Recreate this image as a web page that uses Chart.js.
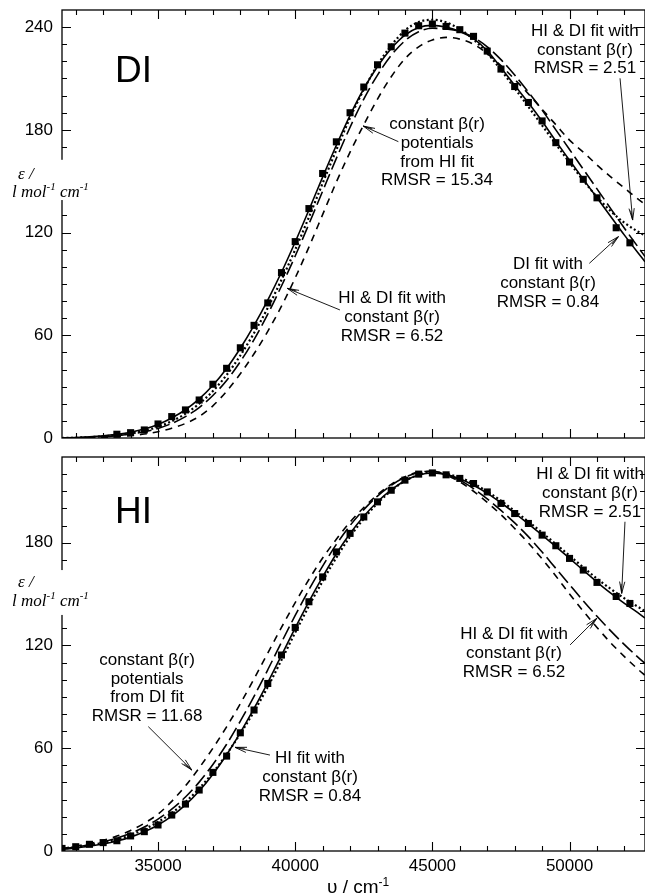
<!DOCTYPE html>
<html>
<head>
<meta charset="utf-8">
<script src="https://cdn.jsdelivr.net/npm/chart.js@4.4.1/dist/chart.umd.min.js"></script>
<style>
  html, body { margin: 0; padding: 0; background: #fff; }
  #wrap { position: relative; width: 645px; height: 896px; }
  canvas { position: absolute; left: 0; }
</style>
</head>
<body>
<div id="wrap">
  <canvas id="diChart" width="645" height="448" style="top:0"></canvas>
  <canvas id="hiChart" width="645" height="448" style="top:448px"></canvas>
</div>
<script>
// Axis ticks (cm^-1) and the labelled ones
const xTickValues = [32000, 33000, 34000, 35000, 36000, 37000, 38000, 39000, 40000, 41000,
  42000, 43000, 44000, 45000, 46000, 47000, 48000, 49000, 50000, 51000, 52000];
const xLabelValues = [35000, 40000, 45000, 50000];

// Wavenumber grid (cm^-1) on which the fitted curves are read
const curveX = [31500, 32000, 32500, 33000, 33500, 34000, 34500, 35000, 35500, 36000,
  36500, 37000, 37500, 38000, 38500, 39000, 39500, 40000, 40500, 41000,
  41500, 42000, 42500, 43000, 43500, 44000, 44500, 45000, 45500, 46000,
  46500, 47000, 47500, 48000, 48500, 49000, 49500, 50000, 50500, 51000,
  51500, 52000, 52500, 52750];

// DI panel
const diExpX = [33500, 34000, 34500, 35000, 35500, 36000, 36500, 37000, 37500, 38000,
  38500, 39000, 39500, 40000, 40500, 41000, 41500, 42000, 42500, 43000,
  43500, 44000, 44500, 45000, 45500, 46000, 46500, 47000, 47500, 48000,
  48500, 49000, 49500, 50000, 50500, 51000, 51700, 52200];
const diExpY = [2.2, 3.1, 4.7, 8.2, 12.5, 16.4, 22.2, 31.4, 40.7, 52.7,
  65.8, 78.9, 96.6, 114.7, 134, 154.5, 173, 190, 205, 218,
  228.5, 236.5, 240.8, 241.8, 240.4, 238.5, 234.6, 226, 215.5, 205.3,
  196, 185.2, 172.5, 161.2, 151.1, 140.3, 122.8, 114];
const diFit = [0, 0.3, 0.7, 1.3, 2.2, 3.4, 5.2, 7.9, 11.7, 16.5,
  22.8, 30.8, 40.6, 52.4, 65.8, 80.6, 96.8, 114.5, 133.2, 152.4,
  171, 188.5, 204, 217, 227.5, 235.3, 239.8, 241, 240, 237.5,
  233.3, 226.2, 216.3, 206, 195.8, 185, 173.4, 162.2, 151.2, 140.3,
  129.4, 118.5, 108, 103];
const diJoint251 = [0, 0.2, 0.5, 1.0, 1.7, 2.7, 4.2, 6.5, 9.8, 14.2,
  20, 27.4, 36.8, 48.2, 61.3, 76, 92.4, 110, 129, 148.8,
  168.3, 187, 203.5, 217.8, 229.3, 238, 243, 244.3, 242.8, 238.8,
  232.8, 224.8, 215, 204.3, 193.5, 182.6, 171.7, 160.9, 150.5, 140.8,
  132.5, 125.7, 120.5, 118.3];
const diJoint652 = [0, 0.15, 0.4, 0.8, 1.4, 2.3, 3.6, 5.6, 8.5, 12.5,
  17.8, 24.8, 33.6, 44.6, 57.5, 72.3, 88.8, 106.3, 125, 144.2,
  163.3, 181.5, 198, 212, 223.5, 232, 237.3, 239.3, 239, 237.5,
  234, 228.5, 221, 212, 202, 191.5, 180, 168.5, 157, 145.5,
  134, 122.5, 111.5, 106];
const diFromHI = [0, 0.1, 0.2, 0.4, 0.8, 1.4, 2.3, 3.7, 5.7, 8.5,
  12.6, 18.8, 27.3, 37.5, 49.2, 62.3, 77, 93.5, 111.5, 130.5,
  149.5, 167, 183, 198, 211, 221.5, 228.5, 232.5, 234, 233,
  230, 224.5, 217.5, 209.5, 201, 192, 183, 174, 167, 159.5,
  152.5, 146, 139.5, 136.5];

// HI panel
const hiExpX = [31500, 32000, 32500, 33000, 33500, 34000, 34500, 35000, 35500, 36000,
  36500, 37000, 37500, 38000, 38500, 39000, 39500, 40000, 40500, 41000,
  41500, 42000, 42500, 43000, 43500, 44000, 44500, 45000, 45500, 46000,
  46500, 47000, 47500, 48000, 48500, 49000, 49500, 50000, 50500, 51000,
  51700, 52200];
const hiExpY = [1.5, 2.5, 3.9, 4.9, 6.0, 8.8, 11.3, 15.2, 21, 27.4,
  35.6, 45.9, 55.4, 69, 82.3, 97.8, 114.4, 130.5, 145.5, 160,
  174.6, 185.4, 195, 203.8, 210.6, 216.5, 220, 220.7, 219.6, 217.5,
  214.5, 209.6, 202.9, 197, 191.2, 184.4, 178.2, 170.8, 164, 156.8,
  148.6, 144.5];
const hiFit = [1, 1.8, 2.8, 4.1, 5.8, 8.1, 11.2, 15.2, 20.4, 26.9,
  35, 44.8, 56.2, 69.1, 83.2, 98.3, 114.2, 130.2, 145.6, 160,
  173.5, 185.3, 195.4, 203.9, 210.8, 216.1, 219.5, 220.7, 219.8, 217.3,
  213.5, 208.8, 203.3, 197.3, 191, 184.4, 177.7, 170.8, 163.9, 157,
  150.5, 144.5, 139, 136];
const hiJoint251 = [1.3, 2.2, 3.3, 4.8, 6.7, 9.3, 12.7, 16.9, 22.2, 28.6,
  36.5, 45.8, 56.5, 68.5, 81.5, 95.8, 111.5, 127.5, 143, 157.5,
  171.3, 183.5, 194, 203, 210.3, 216, 219.6, 221, 220.2, 218,
  214.5, 209.8, 204.5, 198.5, 192.3, 185.8, 179.2, 172.4, 165.6, 159,
  153, 147.5, 142.5, 140];
const hiJoint652 = [1.3, 2.3, 3.6, 5.3, 7.5, 10.3, 14, 18.6, 24.4, 31.5,
  40.2, 50.5, 62.3, 75.8, 90.3, 105.8, 121.8, 137.5, 152.5, 166.3,
  179, 190, 199.3, 207.2, 213.5, 218.2, 221, 221.6, 220, 216.5,
  211.5, 205.5, 198.8, 191.5, 183.5, 174.5, 165, 155.5, 146, 137,
  128.5, 120.5, 113, 109.5];
const hiFromDI = [1.5, 2.8, 4.3, 6.2, 8.7, 12, 16.2, 21.5, 29, 38,
  48.5, 60, 72.5, 86, 100.5, 115.5, 130.5, 145, 158.5, 171,
  182, 192, 200.5, 208, 214, 218.5, 221.2, 221.6, 219.5, 215.5,
  210, 203.5, 196.3, 188.3, 179.8, 170.5, 160.5, 150, 140, 130.5,
  121.5, 113.5, 106, 102.5];

const SANS = '"Liberation Sans", Arial, Helvetica, sans-serif';
const SERIF = '"Liberation Serif", "Times New Roman", serif';

function pairs(xs, ys) {
  return xs.map((x, i) => ({ x: x, y: ys[i] }));
}

function curve(ys, dash, width) {
  return {
    data: pairs(curveX, ys),
    showLine: true,
    borderColor: "#000",
    borderWidth: width,
    borderDash: dash,
    pointRadius: 0,
    cubicInterpolationMode: "monotone",
    fill: false,
  };
}

function squares(xs, ys) {
  return {
    data: pairs(xs, ys),
    showLine: false,
    pointStyle: "rect",
    pointRadius: 5,
    backgroundColor: "#000",
    borderColor: "#000",
    borderWidth: 0,
  };
}

// draw text made of normal and superscript pieces
function drawParts(ctx, parts, x, y, font, supFont) {
  ctx.textAlign = "left";
  ctx.textBaseline = "alphabetic";
  parts.forEach((p) => {
    ctx.font = p.sup ? supFont : font;
    ctx.fillText(p.t, x, p.sup ? y - 7 : y);
    x += ctx.measureText(p.t).width;
  });
}

function arrow(ctx, x0, y0, x1, y1) {
  const a = Math.atan2(y1 - y0, x1 - x0);
  const len = 12, spread = 0.22;
  ctx.beginPath();
  ctx.moveTo(x0, y0);
  ctx.lineTo(x1, y1);
  ctx.moveTo(x1 - len * Math.cos(a - spread), y1 - len * Math.sin(a - spread));
  ctx.lineTo(x1, y1);
  ctx.lineTo(x1 - len * Math.cos(a + spread), y1 - len * Math.sin(a + spread));
  ctx.moveTo(x1 - len * 0.8 * Math.cos(a - spread * 0.5), y1 - len * 0.8 * Math.sin(a - spread * 0.5));
  ctx.lineTo(x1, y1);
  ctx.stroke();
}

// frame, inward ticks, axis labels and annotations
const panelDecor = {
  id: "panelDecor",
  afterDraw(chart, args, opts) {
    const ctx = chart.ctx;
    const area = chart.chartArea;
    const xs = chart.scales.x;
    const ys = chart.scales.y;
    ctx.save();
    ctx.strokeStyle = "#000";
    ctx.fillStyle = "#000";

    // frame
    ctx.lineWidth = 1.3;
    ctx.strokeRect(area.left, area.top, area.right - area.left, area.bottom - area.top);

    // ticks pointing inwards on all sides
    ctx.lineWidth = 1.1;
    ctx.beginPath();
    xs.ticks.forEach((t) => {
      if (t.value <= xs.min || t.value >= xs.max) return;
      const px = Math.round(xs.getPixelForValue(t.value)) + 0.5;
      const len = xLabelValues.includes(t.value) ? 9 : 5;
      ctx.moveTo(px, area.bottom);
      ctx.lineTo(px, area.bottom - len);
      ctx.moveTo(px, area.top);
      ctx.lineTo(px, area.top + len);
    });
    ys.ticks.forEach((t) => {
      if (t.value <= ys.min || t.value >= ys.max) return;
      const py = Math.round(ys.getPixelForValue(t.value)) + 0.5;
      const len = t.value % 60 === 0 ? 9 : 5;
      ctx.moveTo(area.left, py);
      ctx.lineTo(area.left + len, py);
      ctx.moveTo(area.right, py);
      ctx.lineTo(area.right - len, py);
    });
    ctx.stroke();

    // y axis label on a white patch that breaks the axis line
    const yl = opts.yLabel;
    const b0 = ys.getPixelForValue(yl.boxTop);
    const b1 = ys.getPixelForValue(yl.boxBottom);
    ctx.fillStyle = "#fff";
    ctx.fillRect(0, b0, 100, b1 - b0);
    ctx.fillStyle = "#000";
    const base1 = ys.getPixelForValue(yl.line1);
    const font = "italic 17px " + SERIF;
    const supFont = "italic 11px " + SERIF;
    drawParts(ctx, [{ t: "\u03b5 /" }], 18, base1, font, supFont);
    drawParts(ctx, [{ t: "l mol" }, { t: "-1", sup: true }, { t: " cm" }, { t: "-1", sup: true }],
      12, base1 + 18.5, font, supFont);

    // panel name
    ctx.font = "37px " + SANS;
    ctx.textAlign = "left";
    ctx.textBaseline = "alphabetic";
    ctx.fillText(opts.name, xs.getPixelForValue(opts.nameX), ys.getPixelForValue(opts.nameY));

    // annotations with arrows
    ctx.lineWidth = 0.9;
    opts.notes.forEach((n) => {
      ctx.font = "17px " + SANS;
      ctx.textAlign = "center";
      ctx.textBaseline = "alphabetic";
      const px = xs.getPixelForValue(n.x);
      const py = ys.getPixelForValue(n.y);
      n.lines.forEach((line, i) => ctx.fillText(line, px, py + i * 18.7));
      arrow(ctx,
        xs.getPixelForValue(n.from[0]), ys.getPixelForValue(n.from[1]),
        xs.getPixelForValue(n.to[0]), ys.getPixelForValue(n.to[1]));
    });

    // x axis title
    if (opts.xTitle) {
      drawParts(ctx, [{ t: "\u03c5 / cm" }, { t: "-1", sup: true }],
        xs.getPixelForValue(opts.xTitleAt), chart.height - 3,
        "19px " + SANS, "12px " + SANS);
    }
    ctx.restore();
  },
};

function makePanel(id, cfg) {
  return new Chart(document.getElementById(id), {
    type: "scatter",
    data: {
      datasets: [
        squares(cfg.expX, cfg.expY),
        curve(cfg.fit, [], 1.6),
        curve(cfg.joint251, [2, 2.5], 2.2),
        curve(cfg.joint652, [14, 5], 1.6),
        curve(cfg.other, [7, 6], 1.6),
      ],
    },
    options: {
      responsive: false,
      animation: false,
      devicePixelRatio: 1,
      events: [],
      layout: { padding: cfg.padding, autoPadding: false },
      plugins: {
        legend: { display: false },
        tooltip: { enabled: false },
        panelDecor: cfg.decor,
      },
      scales: {
        x: {
          type: "linear",
          min: 31500,
          max: 52750,
          grid: { display: false, drawTicks: false },
          border: { display: false },
          afterBuildTicks(s) {
            s.ticks = xTickValues.map((v) => ({ value: v }));
          },
          ticks: {
            autoSkip: false,
            maxRotation: 0,
            padding: 0,
            color: "#000",
            font: { family: SANS, size: 17, lineHeight: 1.8 },
            callback: (v) => (cfg.xLabels && xLabelValues.includes(v) ? String(v) : ""),
          },
          afterFit(s) {
            s.height = cfg.xHeight;
            s.paddingLeft = 0;
            s.paddingRight = 0;
          },
        },
        y: {
          min: 0,
          max: cfg.yMax,
          grid: { display: false, drawTicks: false },
          border: { display: false },
          ticks: {
            stepSize: 10,
            autoSkip: false,
            padding: 9,
            color: "#000",
            font: { family: SANS, size: 17 },
            callback: (v) => (v % 60 === 0 ? String(v) : ""),
          },
          afterFit(s) {
            s.width = 62;
            s.paddingTop = 0;
            s.paddingBottom = 0;
          },
        },
      },
    },
    plugins: [panelDecor],
  });
}

makePanel("diChart", {
  expX: diExpX, expY: diExpY,
  fit: diFit, joint251: diJoint251, joint652: diJoint652, other: diFromHI,
  yMax: 250,
  xLabels: false,
  xHeight: 0,
  padding: { top: 10, right: 0, bottom: 10, left: 0 },
  decor: {
    name: "DI", nameX: 33430, nameY: 208,
    yLabel: { line1: 151.5, boxTop: 162.5, boxBottom: 139 },
    notes: [
      { lines: ["HI & DI fit with", "constant \u03b2(r)", "RMSR = 2.51"],
        x: 50560, y: 234.8, from: [51840, 210.1], to: [52300, 127.3] },
      { lines: ["constant \u03b2(r)", "potentials", "from HI fit", "RMSR = 15.34"],
        x: 45170, y: 180.3, from: [43760, 173.1], to: [42480, 182.2] },
      { lines: ["DI fit with", "constant \u03b2(r)", "RMSR = 0.84"],
        x: 49215, y: 98.5, from: [50720, 102], to: [51780, 117.6] },
      { lines: ["HI & DI fit with", "constant \u03b2(r)", "RMSR = 6.52"],
        x: 43530, y: 78.7, from: [41630, 74.8], to: [39710, 87.4] },
    ],
  },
});

makePanel("hiChart", {
  expX: hiExpX, expY: hiExpY,
  fit: hiFit, joint251: hiJoint251, joint652: hiJoint652, other: hiFromDI,
  yMax: 230,
  xLabels: true,
  xHeight: 45,
  padding: { top: 9, right: 0, bottom: 0, left: 0 },
  decor: {
    name: "HI", nameX: 33430, nameY: 191.5,
    yLabel: { line1: 154.1, boxTop: 164, boxBottom: 137.8 },
    xTitle: true, xTitleAt: 41160,
    notes: [
      { lines: ["HI & DI fit with", "constant \u03b2(r)", "RMSR = 2.51"],
        x: 50745, y: 217, from: [52020, 192.2], to: [51900, 150.4] },
      { lines: ["HI & DI fit with", "constant \u03b2(r)", "RMSR = 6.52"],
        x: 47975, y: 123.6, from: [50020, 120.3], to: [50990, 135.8] },
      { lines: ["constant \u03b2(r)", "potentials", "from DI fit", "RMSR = 11.68"],
        x: 34600, y: 108.6, from: [34645, 72.6], to: [36230, 47.3] },
      { lines: ["HI fit with", "constant \u03b2(r)", "RMSR = 0.84"],
        x: 40540, y: 51.2, from: [39080, 56], to: [37806, 60.5] },
    ],
  },
});
</script>
</body>
</html>
